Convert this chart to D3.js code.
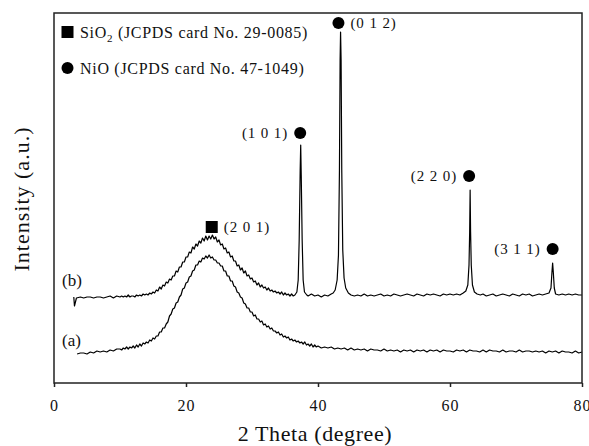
<!DOCTYPE html>
<html>
<head>
<meta charset="utf-8">
<script src="https://cdn.jsdelivr.net/npm/d3@7"></script>
<style>
  body { margin: 0; background: #fff; }
  svg text { font-family: "Liberation Serif", "Times New Roman", serif; fill: #111; }
</style>
</head>
<body>
<div id="chart"></div>
<script>
// pattern (a): 2 theta (degree) and intensity (a.u.)
const thetaA = [3.5, 4, 4.5, 5, 5.5, 6, 6.5, 7, 7.5, 8, 8.5, 9, 9.5,
  10, 10.25, 10.5, 10.75, 11, 11.25, 11.5, 11.75, 12, 12.25, 12.5, 12.75, 13, 13.25, 13.5, 13.75, 14, 14.25, 14.5, 14.75,
  15, 15.25, 15.5, 15.75, 16, 16.25, 16.5, 16.75, 17, 17.25, 17.5, 17.75, 18, 18.25, 18.5, 18.75, 19, 19.25, 19.5, 19.75,
  20, 20.25, 20.5, 20.75, 21, 21.25, 21.5, 21.75, 22, 22.25, 22.5, 22.75, 23, 23.25, 23.5, 23.75, 24, 24.25, 24.5, 24.75,
  25, 25.25, 25.5, 25.75, 26, 26.25, 26.5, 26.75, 27, 27.25, 27.5, 27.75, 28, 28.25, 28.5, 28.75, 29, 29.25, 29.5, 29.75,
  30, 30.25, 30.5, 30.75, 31, 31.25, 31.5, 31.75, 32, 32.25, 32.5, 32.75, 33, 33.25, 33.5, 33.75, 34, 34.25, 34.5, 34.75,
  35, 35.25, 35.5, 35.75, 36, 36.25, 36.5, 36.75, 37, 37.25, 37.5, 37.75, 38, 38.25, 38.5, 38.75, 39, 39.25, 39.5, 39.75,
  40, 40.5, 41, 41.5, 42, 42.5, 43, 43.5, 44, 44.5, 45, 45.5, 46, 46.5, 47, 47.5, 48, 48.5, 49, 49.5,
  50, 50.5, 51, 51.5, 52, 52.5, 53, 53.5, 54, 54.5, 55, 55.5, 56, 56.5, 57, 57.5, 58, 58.5, 59, 59.5,
  60, 60.5, 61, 61.5, 62, 62.5, 63, 63.5, 64, 64.5, 65, 65.5, 66, 66.5, 67, 67.5, 68, 68.5, 69, 69.5,
  70, 70.5, 71, 71.5, 72, 72.5, 73, 73.5, 74, 74.5, 75, 75.5, 76, 76.5, 77, 77.5, 78, 78.5, 79, 79.5, 80];
const intA = [29, 30, 30, 29, 31, 30, 32, 31, 32, 31, 33, 32, 34,
  34, 33, 35, 34, 36, 34, 36, 35, 37, 35, 38, 36, 39, 37, 40, 39, 41, 40, 43, 42,
  45, 44, 47, 47, 51, 51, 55, 55, 59, 61, 67, 69, 74, 75, 80, 81, 86, 88, 94, 95,
  100, 101, 106, 107, 112, 113, 118, 118, 122, 121, 125, 124, 127, 125, 128, 125, 126, 123, 123, 120,
  120, 117, 117, 112, 112, 107, 107, 102, 102, 97, 96, 91, 90, 86, 85, 80, 79, 75, 75, 71,
  71, 67, 68, 64, 64, 61, 62, 58, 59, 56, 57, 54, 55, 52, 52, 50, 51, 48, 49, 46,
  47, 45, 46, 43, 44, 42, 43, 41, 42, 40, 41, 39, 41, 38, 39, 37, 39, 36, 38, 36,
  37, 35, 36, 35, 36, 34, 35, 34, 35, 33, 35, 33, 34, 33, 34, 32, 34, 33, 33, 32,
  34, 32, 33, 32, 33, 31, 33, 32, 33, 31, 33, 32, 33, 31, 33, 32, 33, 31, 33, 32,
  32, 31, 33, 32, 33, 31, 33, 32, 32, 31, 33, 31, 33, 32, 32, 31, 33, 31, 32, 32,
  31, 33, 31, 32, 32, 31, 32, 31, 32, 30, 32, 31, 32, 30, 32, 31, 31, 30, 32, 30, 31];

// pattern (b)
const thetaB = [3.0, 3.1, 3.4, 4, 4.5, 5, 5.5, 6, 6.5, 7, 7.5, 8, 8.5, 9, 9.5,
  10, 10.25, 10.5, 10.75, 11, 11.25, 11.5, 11.75, 12, 12.25, 12.5, 12.75, 13, 13.25, 13.5, 13.75, 14, 14.25, 14.5, 14.75,
  15, 15.25, 15.5, 15.75, 16, 16.25, 16.5, 16.75, 17, 17.25, 17.5, 17.75, 18, 18.25, 18.5, 18.75, 19, 19.25, 19.5, 19.75,
  20, 20.25, 20.5, 20.75, 21, 21.25, 21.5, 21.75, 22, 22.25, 22.5, 22.75, 23, 23.25, 23.5, 23.75, 24, 24.25, 24.5, 24.75,
  25, 25.25, 25.5, 25.75, 26, 26.25, 26.5, 26.75, 27, 27.25, 27.5, 27.75, 28, 28.25, 28.5, 28.75, 29, 29.25, 29.5, 29.75,
  30, 30.25, 30.5, 30.75, 31, 31.25, 31.5, 31.75, 32, 32.25, 32.5, 32.75, 33, 33.25, 33.5, 33.75, 34, 34.25, 34.5, 34.75,
  35, 35.25, 35.5, 35.75, 36, 36.25, 36.5,
  36.8, 37.0, 37.15, 37.3, 37.38, 37.46, 37.6, 37.75, 37.95, 38.3,
  38.5, 39, 39.5, 40, 40.5, 41, 41.5, 42,
  42.3, 42.6, 42.9, 43.1, 43.25, 43.35, 43.42, 43.5, 43.6, 43.75, 43.95, 44.2, 44.6,
  45, 45.5, 46, 46.5, 47, 47.5, 48, 48.5, 49, 49.5, 50, 50.5, 51, 51.5, 52, 52.5, 53, 53.5, 54, 54.5,
  55, 55.5, 56, 56.5, 57, 57.5, 58, 58.5, 59, 59.5, 60, 60.5, 61, 61.5, 62,
  62.4, 62.7, 62.88, 62.98, 63.05, 63.12, 63.22, 63.4, 63.7, 64.1, 64.6,
  65, 65.5, 66, 66.5, 67, 67.5, 68, 68.5, 69, 69.5, 70, 70.5, 71, 71.5, 72, 72.5, 73, 73.5, 74, 74.5,
  75, 75.3, 75.45, 75.55, 75.65, 75.8, 76.0,
  76.5, 77, 77.5, 78, 78.5, 79, 79.5, 80];
const intB = [86, 77, 85, 86, 85, 86, 86, 85, 86, 86, 85, 86, 87, 85, 87,
  86, 87, 86, 87, 86, 88, 86, 87, 87, 86, 88, 87, 88, 87, 89, 88, 89, 88, 90, 89,
  91, 90, 93, 92, 96, 94, 98, 97, 101, 100, 104, 103, 107, 107, 112, 111, 116, 116, 121, 121,
  126, 126, 131, 130, 136, 134, 139, 137, 142, 140, 145, 142, 147, 143, 147, 144, 148, 144, 146, 141,
  143, 138, 139, 134, 135, 130, 131, 126, 127, 122, 122, 117, 118, 113, 115, 110, 112, 107, 108, 104,
  105, 101, 102, 98, 100, 96, 98, 95, 96, 93, 95, 92, 93, 91, 92, 90, 91, 89, 91, 88,
  90, 88, 89, 87, 89, 87, 88,
  91, 103, 143, 213, 238, 208, 143, 103, 91, 88,
  87, 89, 87, 88, 86, 88, 87, 89,
  90, 93, 103, 128, 213, 323, 351, 323, 213, 133, 105, 95, 90,
  88, 87, 88, 87, 89, 87, 88, 87, 88, 89, 87, 88, 87, 89, 88, 87, 88, 89, 88, 87,
  89, 88, 87, 89, 88, 89, 88, 87, 89, 88, 89, 88, 89, 88, 90,
  92, 98, 118, 151, 193, 151, 118, 98, 91, 89, 88,
  89, 87, 88, 89, 87, 88, 89, 88, 87, 89, 88, 87, 89, 88, 89, 87, 88, 89, 88, 89,
  90, 95, 111, 120, 111, 95, 89,
  88, 89, 88, 89, 88, 89, 88, 88];

const xTicks = [0, 20, 40, 60, 80];

// reflection markers
const peakLabels = ["(2 0 1)", "(1 0 1)", "(0 1 2)", "(2 2 0)", "(3 1 1)"];
const peakTheta = [23.9, 37.3, 43.1, 62.9, 75.55];
const peakMarkI = [156, 250, 360, 207, 134];
const peakPhase = ["SiO2", "NiO", "NiO", "NiO", "NiO"];
const peakSide = ["right", "left", "right", "left", "left"];

const legendPhase = ["SiO", "NiO"];
const legendCard = [" (JCPDS card No. 29-0085)", " (JCPDS card No. 47-1049)"];

const W = 589, H = 446;
const margin = { top: 13, right: 7, bottom: 63, left: 54 };
const width = W - margin.left - margin.right;
const height = H - margin.top - margin.bottom;

const svg = d3.select('#chart')
  .append('svg')
  .attr('width', W)
  .attr('height', H);

const g = svg.append('g')
  .attr('transform', `translate(${margin.left},${margin.top})`);

const x = d3.scaleLinear().domain([0, 80]).range([0, width]);
const y = d3.scaleLinear().domain([0, 370]).range([height, 0]);

// curves
const line = d3.line()
  .x(d => x(d[0]))
  .y(d => y(d[1]));

const seriesA = thetaA.map((t, i) => [t, intA[i]]);
const seriesB = thetaB.map((t, i) => [t, intB[i]]);

[seriesA, seriesB].forEach(s => {
  g.append('path')
    .datum(s)
    .attr('fill', 'none')
    .attr('stroke', '#000')
    .attr('stroke-width', 1.2)
    .attr('stroke-linejoin', 'round')
    .attr('d', line);
});

// frame
g.append('rect')
  .attr('width', width)
  .attr('height', height)
  .attr('fill', 'none')
  .attr('stroke', '#222')
  .attr('stroke-width', 1.5);

// x axis
const xAxis = d3.axisBottom(x)
  .tickValues(xTicks)
  .tickSize(4)
  .tickPadding(13)
  .tickFormat(d3.format('d'));

const ax = g.append('g')
  .attr('transform', `translate(0,${height})`)
  .call(xAxis);
ax.select('.domain').remove();
ax.selectAll('line').attr('stroke', '#222').attr('stroke-width', 1.5);
ax.selectAll('text')
  .attr('fill', '#111')
  .style('font-size', '16px')
  .style('letter-spacing', '1px')
  .style('font-family', '"Liberation Serif", serif');

// axis titles
svg.append('text')
  .attr('x', margin.left + width / 2 - 3)
  .attr('y', 441)
  .attr('text-anchor', 'middle')
  .style('font-size', '22px')
  .style('letter-spacing', '0.6px')
  .text('2 Theta (degree)');

svg.append('text')
  .attr('transform', `translate(29,${margin.top + 186}) rotate(-90)`)
  .attr('text-anchor', 'middle')
  .style('font-size', '22px')
  .style('letter-spacing', '1px')
  .text('Intensity (a.u.)');

// series labels
g.append('text')
  .attr('x', 62 - margin.left)
  .attr('y', y(intB[3]) - 11)
  .style('font-size', '17px')
  .text('(b)');
g.append('text')
  .attr('x', 62 - margin.left)
  .attr('y', y(intA[0]) - 8)
  .style('font-size', '17px')
  .text('(a)');

// markers
function drawMarker(sel, phase, cx, cy) {
  if (phase === 'SiO2') {
    sel.append('rect')
      .attr('x', cx - 6).attr('y', cy - 6)
      .attr('width', 12).attr('height', 12)
      .attr('fill', '#000');
  } else {
    sel.append('circle')
      .attr('cx', cx).attr('cy', cy).attr('r', 6)
      .attr('fill', '#000');
  }
}

peakLabels.forEach((lab, i) => {
  const cx = x(peakTheta[i]);
  const cy = y(peakMarkI[i]);
  drawMarker(g, peakPhase[i], cx, cy);
  const right = peakSide[i] === 'right';
  g.append('text')
    .attr('x', right ? cx + 12 : cx - 12)
    .attr('y', cy + 5)
    .attr('text-anchor', right ? 'start' : 'end')
    .style('font-size', '15px')
    .style('letter-spacing', '0.9px')
    .text(lab);
});

// legend
const legendY = [32, 68];
legendPhase.forEach((p, i) => {
  drawMarker(svg, i === 0 ? 'SiO2' : 'NiO', 67.5, legendY[i]);
  const t = svg.append('text')
    .attr('x', 80)
    .attr('y', legendY[i] + 6)
    .style('font-size', '16px')
    .style('letter-spacing', '0.7px');
  t.append('tspan').text(p);
  if (i === 0) {
    t.append('tspan').attr('dy', 4).style('font-size', '11px').text('2');
    t.append('tspan').attr('dy', -4).text(legendCard[i]);
  } else {
    t.append('tspan').text(legendCard[i]);
  }
});
</script>
</body>
</html>
